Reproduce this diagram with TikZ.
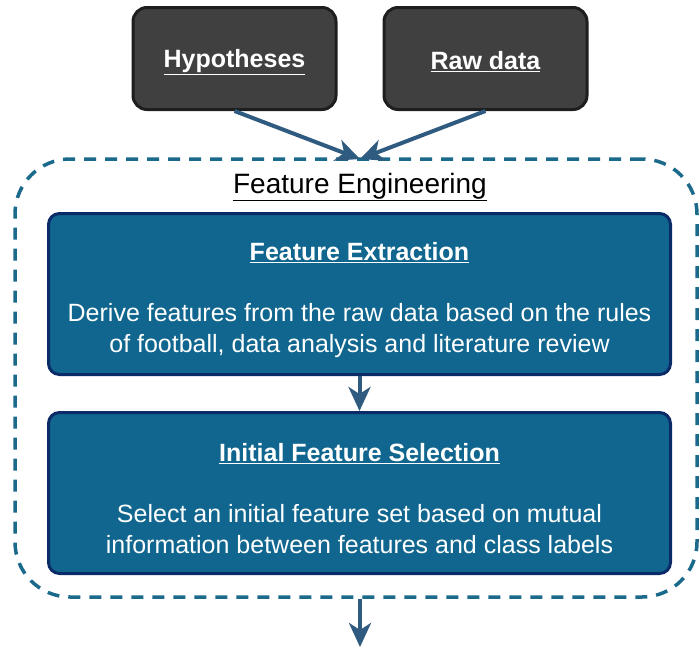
\documentclass[tikz,border=0pt]{standalone}
\usepackage{fontspec}
\setmainfont{Liberation Sans}
\usetikzlibrary{arrows.meta}

\definecolor{darkbox}{HTML}{404040}
\definecolor{darkedge}{HTML}{1E1E1E}
\definecolor{stepfill}{HTML}{10668E}
\definecolor{stepedge}{HTML}{0B2A68}
\definecolor{groupline}{HTML}{1B6A8C}
\definecolor{flow}{HTML}{2F5B80}

\tikzset{
  inputbox/.style={draw=darkedge, fill=darkbox, line width=3pt, rounded corners=14pt,
    minimum width=203pt, minimum height=102pt},
  inputtext/.style={text=white, font=\fontsize{25}{31}\selectfont\bfseries},
  stagebox/.style={draw=stepedge, fill=stepfill, line width=3pt, rounded corners=11pt,
    minimum width=622pt, minimum height=161pt},
  stagetext/.style={text=white, align=center, font=\fontsize{25}{31}\selectfont},
  groupbox/.style={draw=groupline, line width=3.5pt, dash pattern=on 12pt off 9pt,
    rounded corners=55pt, minimum width=682pt, minimum height=438pt},
  flowarrow/.style={draw=flow, line width=4pt,
    -{Stealth[length=24pt, width=22pt, inset=7pt]}},
}

\begin{document}
\begin{tikzpicture}[x=1pt, y=-1pt]
  \useasboundingbox (0,0) rectangle (699,648);

  % inputs
  \node[inputbox] (hyp) at (234.5,58.5) {};
  \node[inputtext] (hyptext) at (234.5,62) {\underline{Hypotheses}};
  \node[inputbox] (raw) at (485.5,58.5) {};
  \node[inputtext] (rawtext) at (485.5,62) {\underline{Raw data}};

  % feature engineering group
  \node[groupbox] (fe) at (356,378) {};
  \coordinate (fetop) at (360,159);
  \node[font=\fontsize{28}{32}\selectfont] (fetitle) at (360,187) {\underline{Feature Engineering}};

  % stages
  \node[stagebox] (ext) at (359.5,294) {};
  \node[stagetext] (exttext) at (359.5,300)
    {\textbf{\underline{Feature Extraction}}\\[30pt]
     Derive features from the raw data based on the rules\\
     of football, data analysis and literature review};
  \node[stagebox] (sel) at (359.5,493) {};
  \node[stagetext] (seltext) at (359.5,499)
    {\textbf{\underline{Initial Feature Selection}}\\[30pt]
     Select an initial feature set based on mutual\\
     information between features and class labels};

  \coordinate (out) at (360,647);

  % connectors
  \draw[flowarrow] (hyp.south) -- (fetop);
  \draw[flowarrow] (raw.south) -- (fetop);
  \draw[flowarrow] (ext.south) -- (sel.north);
  \draw[flowarrow] (fe.south -| out) -- (out);
\end{tikzpicture}
\end{document}
